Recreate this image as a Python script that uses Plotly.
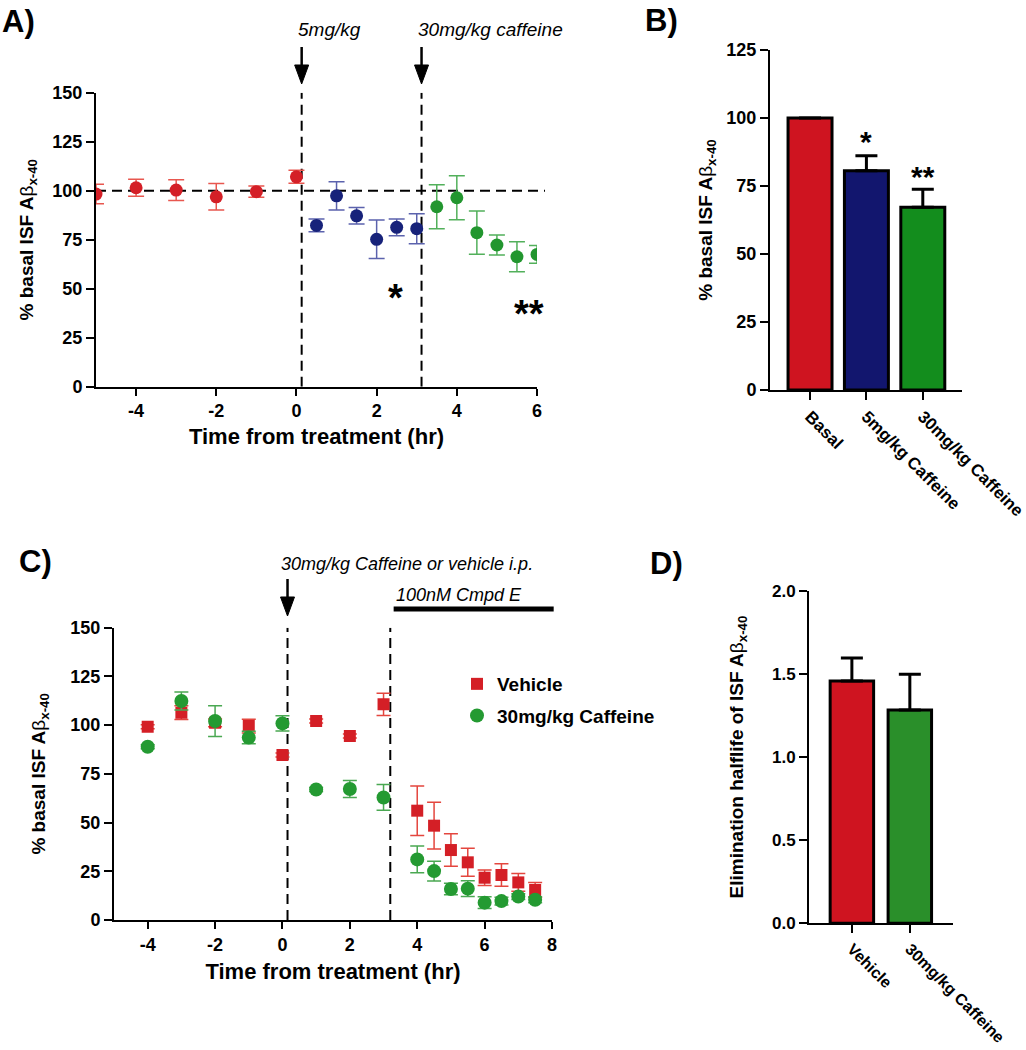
import plotly.graph_objects as go

# ---------------- data ----------------
# Panel A: % basal ISF Abeta x-40 over time (hr)
a_basal_t = [-5, -4, -3, -2, -1, 0]
a_basal_y = [98.3, 101.5, 100.3, 96.9, 99.5, 107.1]
a_basal_e = [5.0, 4.3, 5.3, 6.8, 2.9, 3.3]
a_low_t = [0.5, 1, 1.5, 2, 2.5, 3]
a_low_y = [82.3, 97.4, 87.2, 75.2, 81.3, 80.6]
a_low_e = [3.3, 7.2, 4.2, 9.8, 4.3, 7.7]
a_high_t = [3.5, 4, 4.5, 5, 5.5, 6]
a_high_y = [91.8, 96.4, 78.6, 72.3, 66.3, 67.5]
a_high_e = [11.2, 11.2, 11.0, 5.1, 7.7, 4.5]
a_dose_t = [0.13, 3.12]
a_dose_txt = ["5mg/kg", "30mg/kg caffeine"]
a_sig_t = [2.47, 5.8]
a_sig_y = [45.2, 37.0]
a_sig_txt = ["*", "**"]
a_baseline = 100
a_xticks = [-4, -2, 0, 2, 4, 6]

# Panel B: mean % basal
b_groups = ["Basal", "5mg/kg Caffeine", "30mg/kg Caffeine"]
b_mean = [100, 80.6, 67.2]
b_sem = [0, 5.5, 6.6]
b_sig_y = [91.2, 78.4]
b_sig_txt = ["*", "**"]

# Panel C: vehicle vs caffeine, then Cmpd E
c_t = [-4, -3, -2, -1, 0, 1, 2, 3, 4, 4.5, 5, 5.5, 6, 6.5, 7, 7.5]
c_veh_y = [99.2, 106.4, 101.2, 99.5, 84.7, 102.1, 94.4, 110.7, 56.1, 48.4, 35.9, 29.6, 21.7, 23.1, 19.3, 15.4]
c_veh_e = [1.0, 3.5, 2.0, 3.5, 1.0, 1.0, 1.0, 5.7, 12.7, 12.0, 8.3, 7.2, 4.0, 5.8, 4.5, 3.8]
c_caf_y = [88.9, 112.4, 102.1, 93.6, 100.9, 67.0, 67.2, 62.9, 31.1, 25.1, 15.9, 16.1, 8.9, 9.7, 12.0, 10.4]
c_caf_e = [1.0, 4.6, 7.9, 3.2, 3.9, 1.0, 4.4, 6.6, 6.9, 5.1, 3.0, 4.0, 3.0, 2.0, 1.5, 1.5]
c_dose_t = 0.15
c_cmpd_t = 3.2
c_cmpd_bar = [3.3, 8.05]
c_xticks = [-4, -2, 0, 2, 4, 6, 8]

# Panel D: elimination half-life
d_groups = ["Vehicle", "30mg/kg Caffeine"]
d_mean = [1.457, 1.283]
d_sem = [0.138, 0.214]

# ---------------- layout geometry (px of the 1026x1050 picture) ----------------
W, H = 1026, 1050
A_X, A_Y, A_XR, A_YR = (96, 537), (92.7, 386.7), [-5, 6], [0, 150]
B_X, B_Y, B_XR, B_YR = (770, 961.7), (50, 390), [-0.71, 2.69], [0, 125]
C_X, C_Y, C_XR, C_YR = (114, 552), (627.7, 920), [-5, 8], [0, 150]
D_X, D_Y, D_XR, D_YR = (809, 953.3), (590.7, 923.3), [-0.74, 1.75], [0, 2]


def dom_x(d):
    return [d[0] / W, d[1] / W]


def dom_y(d):
    return [1 - d[1] / H, 1 - d[0] / H]


def px(x):
    return x / W


def py(y):
    return 1 - y / H


def xdata_to_px(dom, rng, v):
    return dom[0] + (v - rng[0]) / (rng[1] - rng[0]) * (dom[1] - dom[0])


FONT = "Liberation Sans, Arial, sans-serif"
RED, NAVY, GREEN = "#d41f27", "#17227a", "#22962f"
RED_E, NAVY_E, GREEN_E = "#e8574f", "#5b62ad", "#52b05b"

fig = go.Figure()

# ---- Panel A traces ----
for t, y, e, col, ecol in [
    (a_basal_t, a_basal_y, a_basal_e, RED, RED_E),
    (a_low_t, a_low_y, a_low_e, NAVY, NAVY_E),
    (a_high_t, a_high_y, a_high_e, GREEN, GREEN_E),
]:
    fig.add_trace(go.Scatter(
        x=t, y=y, mode="markers", xaxis="x", yaxis="y", showlegend=False,
        marker=dict(symbol="circle", size=13, color=col),
        error_y=dict(type="data", array=e, color=ecol, thickness=1.5, width=8),
    ))

# ---- Panel B bars ----
fig.add_trace(go.Bar(
    x=b_groups, y=b_mean, xaxis="x2", yaxis="y2", showlegend=False,
    width=0.78,
    marker=dict(color=["#cf1420", "#12166e", "#138d1d"], line=dict(color="black", width=3)),
    error_y=dict(type="data", array=b_sem, arrayminus=[0] * len(b_sem), symmetric=False,
                 color="black", thickness=3, width=11),
))

# ---- Panel C traces ----
fig.add_trace(go.Scatter(
    x=c_t, y=c_veh_y, mode="markers", xaxis="x3", yaxis="y3", name="Vehicle",
    legendgroup="veh",
    marker=dict(symbol="square", size=12, color="#d41f26"),
    error_y=dict(type="data", array=c_veh_e, color="#e4463e", thickness=1.5, width=7),
))
fig.add_trace(go.Scatter(
    x=c_t, y=c_caf_y, mode="markers", xaxis="x3", yaxis="y3", name="30mg/kg Caffeine",
    legendgroup="caf",
    marker=dict(symbol="circle", size=14, color="#249a32"),
    error_y=dict(type="data", array=c_caf_e, color="#4aa852", thickness=1.5, width=7),
))

# ---- Panel D bars ----
fig.add_trace(go.Bar(
    x=d_groups, y=d_mean, xaxis="x4", yaxis="y4", showlegend=False,
    width=0.75,
    marker=dict(color=["#cf1420", "#2a8f2a"], line=dict(color="black", width=3)),
    error_y=dict(type="data", array=d_sem, arrayminus=[0] * len(d_sem), symmetric=False,
                 color="black", thickness=3, width=11),
))

# ---------------- axes ----------------
tick_font = dict(family=FONT, size=18, color="black", weight="bold")
title_font = dict(family=FONT, size=19, color="black", weight="bold")
xtitle_font = dict(family=FONT, size=22, color="black", weight="bold")
ytitle_abeta = "% basal ISF A<span style='font-weight:normal'>β</span><sub>x-40</sub>"

common = dict(showline=True, linecolor="black", linewidth=2, ticks="outside",
              tickcolor="black", tickwidth=2, showgrid=False, zeroline=False,
              tickfont=tick_font, mirror=False, automargin=False)

layout_axes = dict(
    xaxis=dict(domain=dom_x(A_X), range=A_XR, anchor="y", tickvals=a_xticks,
               ticktext=[str(v) for v in a_xticks],
               ticklen=7, title=dict(text="Time from treatment (hr)", font=xtitle_font, standoff=8),
               **common),
    yaxis=dict(domain=dom_y(A_Y), range=A_YR, anchor="x", dtick=25, tick0=0, ticklen=8,
               title=dict(text=ytitle_abeta, font=title_font, standoff=14), **common),
    xaxis2=dict(domain=dom_x(B_X), range=B_XR, anchor="y2", type="category", ticklen=8,
                tickangle=45, **common),
    yaxis2=dict(domain=dom_y(B_Y), range=B_YR, anchor="x2", dtick=25, tick0=0, ticklen=8,
                title=dict(text=ytitle_abeta, font=title_font, standoff=9), **common),
    xaxis3=dict(domain=dom_x(C_X), range=C_XR, anchor="y3", tickvals=c_xticks,
                ticktext=[str(v) for v in c_xticks],
                ticklen=7, title=dict(text="Time from treatment (hr)", font=xtitle_font, standoff=10),
                **common),
    yaxis3=dict(domain=dom_y(C_Y), range=C_YR, anchor="x3", dtick=25, tick0=0, ticklen=8,
                title=dict(text=ytitle_abeta, font=title_font, standoff=20), **common),
    xaxis4=dict(domain=dom_x(D_X), range=D_XR, anchor="y4", type="category", ticklen=8,
                tickangle=45, **common),
    yaxis4=dict(domain=dom_y(D_Y), range=D_YR, anchor="x4", dtick=0.5, tick0=0, ticklen=8,
                tickformat=".1f",
                title=dict(text="Elimination halflife of ISF A<span style='font-weight:normal'>β</span><sub>x-40</sub>",
                           font=title_font, standoff=23), **common),
)
layout_axes["xaxis2"]["tickfont"] = dict(family=FONT, size=17, color="black", weight="bold")
layout_axes["xaxis4"]["tickfont"] = dict(family=FONT, size=16, color="black", weight="bold")
layout_axes["yaxis4"]["tickfont"] = dict(family=FONT, size=17, color="black", weight="bold")

# ---------------- shapes ----------------
shapes = []
dash = "10px,6px"
# A: baseline (runs slightly past the x-axis end) and dose lines
shapes.append(dict(type="line", xref="paper", yref="y", x0=px(A_X[0]), x1=px(A_X[1] + 8),
                   y0=a_baseline, y1=a_baseline, line=dict(color="black", width=2, dash=dash),
                   layer="below"))
for t in a_dose_t:
    shapes.append(dict(type="line", xref="x", yref="y", x0=t, x1=t, y0=A_YR[0], y1=A_YR[1],
                       line=dict(color="black", width=2, dash=dash), layer="below"))
# C: dose lines
for t in [c_dose_t, c_cmpd_t]:
    shapes.append(dict(type="line", xref="x3", yref="y3", x0=t, x1=t, y0=C_YR[0], y1=C_YR[1],
                       line=dict(color="black", width=2, dash=dash), layer="below"))
# C: Cmpd E bar (above plot area)
bx0 = xdata_to_px(C_X, C_XR, c_cmpd_bar[0])
bx1 = xdata_to_px(C_X, C_XR, c_cmpd_bar[1])
shapes.append(dict(type="line", xref="paper", yref="paper", x0=px(bx0), x1=px(bx1),
                   y0=py(609), y1=py(609), line=dict(color="black", width=5)))


def arrow(xpx, top, tip):
    head = 19
    hw = 7
    out = [dict(type="line", xref="paper", yref="paper", x0=px(xpx), x1=px(xpx),
                y0=py(top), y1=py(tip - head + 2), line=dict(color="black", width=2.5))]
    path = "M {:.5f} {:.5f} L {:.5f} {:.5f} L {:.5f} {:.5f} Z".format(
        px(xpx - hw), py(tip - head), px(xpx + hw), py(tip - head), px(xpx), py(tip))
    out.append(dict(type="path", xref="paper", yref="paper", path=path,
                    fillcolor="black", line=dict(color="black", width=1)))
    return out


for t in a_dose_t:
    shapes += arrow(xdata_to_px(A_X, A_XR, t), 47, 84)
shapes += arrow(xdata_to_px(C_X, C_XR, c_dose_t), 579, 616)

# ---------------- annotations ----------------
ann = []
lab_font = dict(family=FONT, size=31, color="black", weight="bold")
for txt, x, y in [("A)", 0, 21.5), ("B)", 643, 20), ("C)", 17, 561), ("D)", 648, 563)]:
    ann.append(dict(text=txt, xref="paper", yref="paper", x=px(x), y=py(y), xanchor="left",
                    yanchor="middle", showarrow=False, font=lab_font))

ital = dict(family=FONT, size=19, color="black", style="italic")
for txt, t in zip(a_dose_txt, a_dose_t):
    ann.append(dict(text=txt, xref="paper", yref="paper",
                    x=px(xdata_to_px(A_X, A_XR, t) - 6), y=py(29), xanchor="left",
                    yanchor="middle", showarrow=False, font=ital))
ann.append(dict(text="30mg/kg Caffeine or vehicle i.p.", xref="paper", yref="paper",
                x=px(xdata_to_px(C_X, C_XR, c_dose_t) - 9), y=py(564), xanchor="left",
                yanchor="middle", showarrow=False, font=dict(ital, size=18)))
ann.append(dict(text="100nM Cmpd E", xref="paper", yref="paper", x=px(bx0), y=py(595),
                xanchor="left", yanchor="middle", showarrow=False, font=dict(ital, size=18)))

for txt, t, y in zip(a_sig_txt, a_sig_t, a_sig_y):
    ann.append(dict(text=txt, xref="x", yref="y", x=t, y=y, showarrow=False,
                    font=dict(family=FONT, size=38, color="black", weight="bold")))
for txt, g, y in zip(b_sig_txt, b_groups[1:], b_sig_y):
    ann.append(dict(text=txt, xref="x2", yref="y2", x=g, y=y, showarrow=False,
                    font=dict(family=FONT, size=30, color="black", weight="bold")))

fig.update_layout(
    width=W, height=H, margin=dict(l=0, r=0, t=0, b=0, autoexpand=False),
    paper_bgcolor="white", plot_bgcolor="white",
    font=dict(family=FONT, color="black"),
    shapes=shapes, annotations=ann,
    legend=dict(x=px(457), y=py(665), xanchor="left", yanchor="top",
                font=dict(family=FONT, size=19, color="black", weight="bold"),
                bgcolor="rgba(0,0,0,0)", tracegroupgap=4, traceorder="grouped"),
    bargap=0.2,
    **layout_axes,
)

fig.write_html(
    "out.html",
    config={"displayModeBar": False},
    post_script=(
        "document.documentElement.style.margin='0';document.body.style.margin='0';"
        "document.documentElement.style.overflow='hidden';document.body.style.overflow='hidden';"
    ),
)
